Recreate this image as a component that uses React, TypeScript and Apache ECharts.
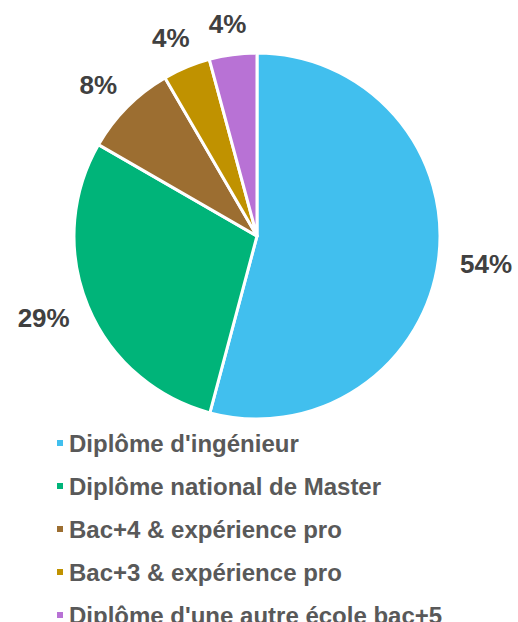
import React, { useEffect, useRef } from "react";
import * as echarts from "echarts";

const categories = [
  "Diplôme d'ingénieur",
  "Diplôme national de Master",
  "Bac+4 & expérience pro",
  "Bac+3 & expérience pro",
  "Diplôme d'une autre école bac+5",
];
// shares; labels show them rounded
const values = [54.2, 29.2, 8.3, 4.2, 4.2];
const colors = ["#41BFEE", "#00B479", "#9C6E31", "#C09200", "#B872D5"];

const FONT = "Liberation Sans, Arial, sans-serif";

export default function App() {
  const ref = useRef<HTMLDivElement>(null);
  useEffect(() => {
    const chart = echarts.init(ref.current!, undefined, { renderer: "svg" });
    chart.setOption({
      animation: false,
      color: colors,
      legend: {
        orient: "vertical",
        left: 55,
        top: 431,
        padding: 0,
        height: 260,
        itemWidth: 8,
        itemHeight: 8,
        itemGap: 19,
        icon: "rect",
        textStyle: {
          fontFamily: FONT,
          fontWeight: "bold",
          fontSize: 24,
          lineHeight: 24,
          color: "#595959",
        },
        data: categories,
      },
      series: [
        {
          type: "pie",
          center: [257, 236],
          radius: 183,
          startAngle: 90,
          clockwise: true,
          avoidLabelOverlap: false,
          itemStyle: { borderColor: "#ffffff", borderWidth: 3 },
          label: {
            show: true,
            position: "outside",
            formatter: (p: any) => Math.round(p.value) + "%",
            fontFamily: FONT,
            fontWeight: "bold",
            fontSize: 26,
            color: "#404040",
          },
          labelLine: {
            show: true,
            length: 22,
            length2: 0,
            lineStyle: { width: 0, opacity: 0 },
          },
          labelLayout: (params: any) => {
            const pts = params.labelLinePoints;
            const r = params.labelRect;
            if (!pts || pts.length < 2) return {};
            const dx = pts[1][0] - pts[0][0];
            const dy = pts[1][1] - pts[0][1];
            const len = Math.sqrt(dx * dx + dy * dy) || 1;
            const ux = dx / len;
            const uy = dy / len;
            return {
              x: pts[1][0] + (ux * r.width) / 2,
              y: pts[1][1] + uy * r.height * 0.35,
              align: "center",
              verticalAlign: "middle",
            };
          },
          emphasis: { disabled: true },
          data: categories.map((name, i) => ({ name, value: values[i] })),
        },
      ],
    });
    return () => chart.dispose();
  }, []);
  return (
    <div
      ref={ref}
      style={{ position: "fixed", left: 0, top: 0, width: 518, height: 622, background: "#fff" }}
    />
  );
}
